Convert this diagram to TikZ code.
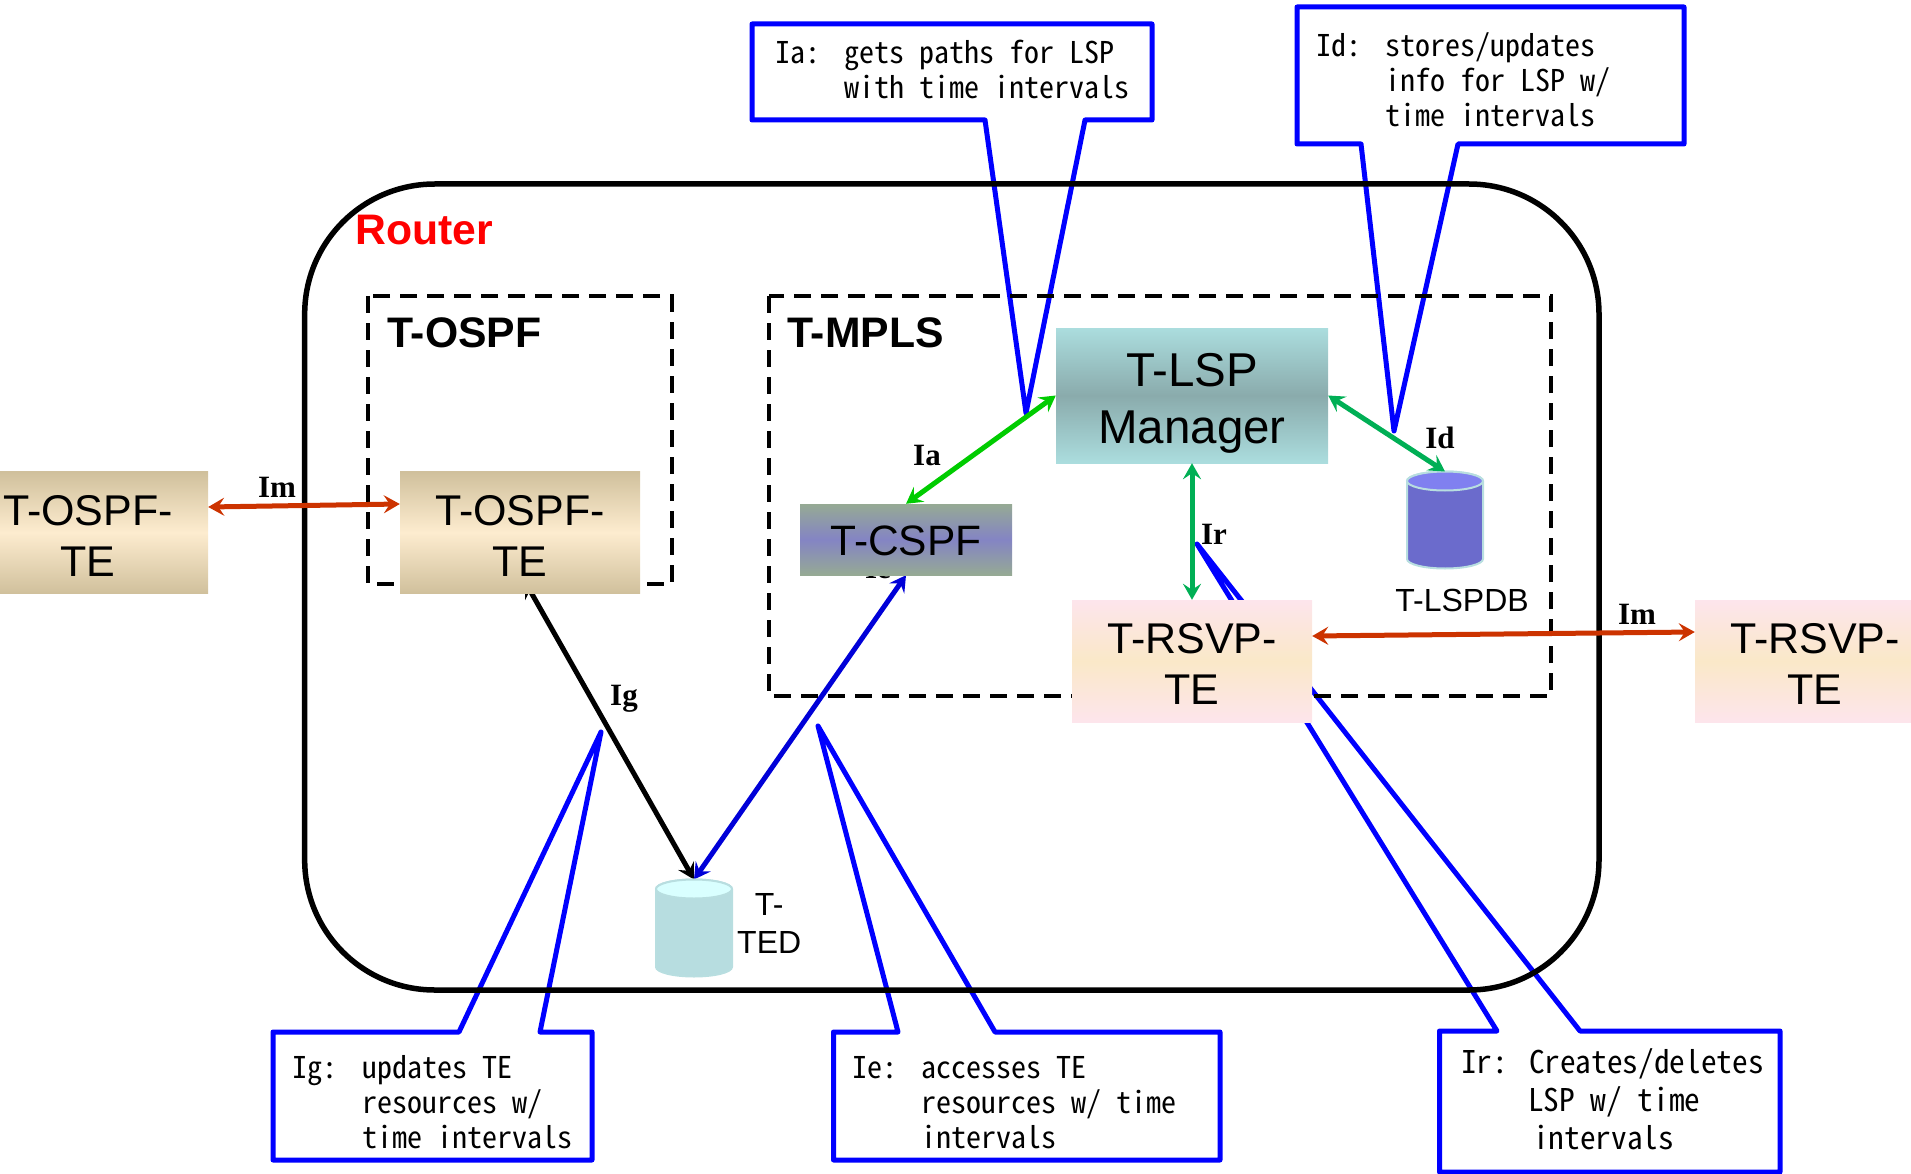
\documentclass[tikz,border=0pt]{standalone}
\usepackage{fontspec}
\setmainfont{Liberation Sans}
\newfontfamily\ifacefont{Liberation Serif}
\newfontfamily\notefont[RawFeature=+hwid]{Noto Sans CJK JP}
\usetikzlibrary{calc,positioning,arrows.meta,backgrounds}
\newcommand{\notelead}[1]{\makebox[69.5pt][l]{#1}}
\newcommand{\noteskip}{\hspace*{69.5pt}}
\newcommand{\toppad}[1]{\rule{0pt}{#1pt}}
\newcommand{\dbdrum}[3]{%
  \draw[draw=cylrim,line width=2pt,fill=#2] ($(#1.north west)+(0,9.5)$) -- ($(#1.south west)+(0,-9.5)$)
    arc[start angle=180,delta angle=180,x radius=38pt,y radius=9.5pt] -- ($(#1.north east)+(0,9.5)$)
    arc[start angle=0,delta angle=180,x radius=38pt,y radius=9.5pt] -- cycle;
  \draw[draw=cylrim,line width=2pt,fill=#3] ($(#1.north)+(0,9.5)$) ellipse[x radius=38pt,y radius=9.5pt];
}
\tikzset{
  modbox/.style={minimum width=240pt,minimum height=122pt,inner sep=0pt,align=center,font=\fontsize{43}{51}\selectfont},
  ospfbox/.style={modbox,top color=ospfedge,bottom color=ospfedge,middle color=ospfmid},
  rsvpbox/.style={modbox,top color=rsvpedge,bottom color=rsvpedge,middle color=rsvpmid},
  groupbox/.style={draw=black,line width=4pt,dash pattern=on 17pt off 10pt},
  grouptitle/.style={anchor=west,inner sep=0pt,font=\fontsize{42.7}{48}\selectfont\bfseries},
  dbspot/.style={minimum width=76pt,minimum height=97pt,inner sep=0pt,outer sep=0pt},
  dblabel/.style={inner sep=0pt,align=center,font=\fontsize{32}{38}\selectfont},
  iface/.style={inner sep=0pt,font=\fontsize{31}{36}\ifacefont\bfseries\selectfont},
  notebox/.style={draw=noteblue,line width=5pt,line join=round},
  notetext/.style={anchor=north west,inner sep=0pt,align=left,font=\fontsize{30}{35}\notefont\selectfont},
  ends/.style={line width=5pt,{Stealth[length=16pt,width=18pt,inset=6pt]}-{Stealth[length=16pt,width=18pt,inset=6pt]}},
}
\definecolor{ospfedge}{HTML}{D0C09C}
\definecolor{ospfmid}{HTML}{FDECCF}
\definecolor{rsvpedge}{HTML}{FDE5EC}
\definecolor{rsvpmid}{HTML}{FAE8C8}
\definecolor{lspedge}{HTML}{ABDDDE}
\definecolor{lspmid}{HTML}{8AABAC}
\definecolor{cspfedge}{HTML}{96AA94}
\definecolor{cspfmid}{HTML}{8484C4}
\definecolor{cylrim}{HTML}{B8DEE0}
\definecolor{tedbody}{HTML}{B7DDE0}
\definecolor{tedend}{HTML}{D9FFFF}
\definecolor{lspdbbody}{HTML}{6B6BCC}
\definecolor{lspdbend}{HTML}{8080F0}
\definecolor{noteblue}{HTML}{0000FF}
\definecolor{tedblue}{HTML}{0000D8}
\definecolor{imred}{HTML}{CC3300}
\definecolor{iagreen}{HTML}{00CC00}
\definecolor{irgreen}{HTML}{00AF55}
\begin{document}
\begin{tikzpicture}[x=1pt,y=-1pt]
    \useasboundingbox (0,0) rectangle (1911,1174);

    \node[ospfbox] (ospfa) at (88,532.5) {\toppad{36}T-OSPF-\\TE};
    \node[ospfbox] (ospfb) at (520,532.5) {\toppad{36}T-OSPF-\\TE};
    \node[modbox,minimum width=272pt,minimum height=135pt,font=\fontsize{47.5}{57}\selectfont,
      top color=lspedge,bottom color=lspedge,middle color=lspmid] (lsp) at (1192,395.5) {\toppad{48}T-LSP\\Manager};
    \node[modbox,minimum width=212pt,minimum height=71pt,font=\fontsize{42.5}{51}\selectfont,
      top color=cspfedge,bottom color=cspfedge,middle color=cspfmid] (cspf) at (906,539.5) {\toppad{33}T-CSPF};
    \node[rsvpbox] (rsvpa) at (1192,661) {\toppad{36}T-RSVP-\\TE};
    \node[rsvpbox] (rsvpb) at (1815,661) {\toppad{36}T-RSVP-\\TE};

    \node[dbspot] (ted) at (694,928) {};
    \dbdrum{ted}{tedbody}{tedend}
    \node[dblabel,right=5pt of ted,yshift=5pt] (tedname) {T-\\TED};
    \node[dbspot] (lspdb) at (1445,520) {};
    \dbdrum{lspdb}{lspdbbody}{lspdbend}
    \node[dblabel,below=20pt of lspdb,xshift=17pt] (lspdbname) {T-LSPDB};

    \node[grouptitle,text=red] (routername) at (355,230) {Router};
    \node[grouptitle] (ospfname) at (387,333) {T-OSPF};
    \node[grouptitle] (mplsname) at (787,333) {T-MPLS};

    \begin{scope}[on background layer]
    \coordinate (iatip) at (1026,413);
    \coordinate (idtip) at (1394,431);
    \coordinate (igtip) at (601,732);
    \coordinate (ietip) at (818,726);
    \coordinate (irtip) at (1197,544);
    \draw[notebox] (752,24) -- (1152,24) -- (1152,120) -- (1085,120) -- (iatip) -- (985,120) -- (752,120) -- cycle;
    \draw[notebox] (1297,7) -- (1684,7) -- (1684,144) -- (1458,144) -- (idtip) -- (1361,144) -- (1297,144) -- cycle;
    \draw[notebox] (273,1032) -- (459,1032) -- (igtip) -- (540,1032) -- (592,1032) -- (592,1160) -- (273,1160) -- cycle;
    \draw[notebox] (833.5,1032) -- (898,1032) -- (ietip) -- (995,1032) -- (1220,1032) -- (1220,1160) -- (833.5,1160) -- cycle;
    \draw[notebox] (1439.5,1031) -- (1497,1031) -- (irtip) -- (1580,1031) -- (1780,1031) -- (1780,1172) -- (1439.5,1172) -- cycle;

    \node[iface] (iename) at (878,568) {Ie};
    \draw[ends,black] ([xshift=5pt,yshift=12pt]ospfb.south) -- (ted.north);
    \draw[ends,tedblue] (ted.north) -- (cspf.south);

    \draw[line width=5.5pt,rounded corners=130pt] (304.7,184) rectangle (1599,990);
    \draw[groupbox] (368,296) rectangle (671.5,584);
    \draw[groupbox] (769,296) rectangle (1551,696);
    \end{scope}

    \draw[ends,imred] ([yshift=25.5pt]ospfa.east) -- ([yshift=28.5pt]ospfb.west);
    \draw[ends,imred] ([yshift=25pt]rsvpa.east) -- ([yshift=29pt]rsvpb.west);
    \draw[ends,iagreen] (lsp.west) -- (cspf.north);
    \draw[ends,irgreen] (lsp.east) -- (lspdb.north);
    \draw[ends,irgreen] (lsp.south) -- (rsvpa.north);

    \node[iface] (imleft) at (277,487) {Im};
    \node[iface] (imright) at (1637,614) {Im};
    \node[iface] (ianame) at (927,455) {Ia};
    \node[iface] (idname) at (1440,437.5) {Id};
    \node[iface] (irname) at (1214,534) {Ir};
    \node[iface] (igname) at (624,698.5) {Ig};

    \node[notetext] (iatext) at (775,40) {\notelead{Ia:}gets paths for LSP\\\noteskip with time intervals};
    \node[notetext] (idtext) at (1316,32.5) {\notelead{Id:}stores/updates\\\noteskip info for LSP w/\\\noteskip time intervals};
    \node[notetext] (igtext) at (292.5,1055.5) {\notelead{Ig:}updates TE\\\noteskip resources w/\\\noteskip time intervals};
    \node[notetext] (ietext) at (852,1056.5) {\notelead{Ie:}accesses TE\\\noteskip resources w/ time\\\noteskip intervals};
    \node[notetext,font=\fontsize{31.3}{38}\notefont\selectfont] (irtext) at (1461,1048) {Ir: Creates/deletes\\\hspace*{67pt}LSP w/ time\\\hspace*{72pt}intervals};
\end{tikzpicture}
\end{document}
